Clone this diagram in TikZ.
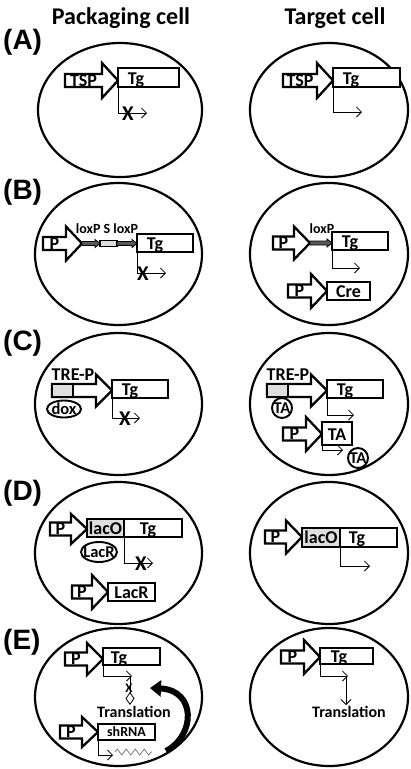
\documentclass[tikz,border=0pt]{standalone}
\usepackage{fontspec}
\setmainfont{Carlito}
\newfontfamily\panelfont{Liberation Sans}
\usetikzlibrary{arrows.meta,shapes.geometric,decorations.pathmorphing}

\newcommand{\fs}[1]{\bfseries\fontsize{#1}{#1}\selectfont}

% promoter block arrow: name, x start, x tip, y centre, head half-height, label
\newcommand{\promoter}[6]{%
  \draw[promo] (#2,#4-6.5) -- (#3-16,#4-6.5) -- (#3-16,#4-#5) -- (#3,#4)
    -- (#3-16,#4+#5) -- (#3-16,#4+6.5) -- (#2,#4+6.5) -- cycle;
  \node[plab] (#1) at ({(#2+#3-16)/2},#4) {#6};
  \coordinate (#1 tip) at (#3,#4);}

% gene box: [style], name, x1, y1, x2, y2
\newcommand{\gene}[6][gene]{%
  \node[#1, minimum width={(#5-#3)*1pt}, minimum height={(#6-#4)*1pt}]
    (#2) at ({(#3+#5)/2},{(#4+#6)/2}) {};}

% loxP site: name, x start, x tip, y centre
\newcommand{\loxp}[4]{%
  \draw[loxsite] (#2,#4-2) -- (#3-5,#4-2) -- (#3-5,#4-4) -- (#3,#4)
    -- (#3-5,#4+4) -- (#3-5,#4+2) -- (#2,#4+2) -- cycle;
  \coordinate (#1) at (#3,#4);}

\begin{document}
\begin{tikzpicture}[x=1pt,y=-1pt,
  % text centred on its capital height (argument: font size in pt)
  capcentre/.style={font=\fs{#1}, inner sep=0pt, text height={0.644*#1*1pt}, text depth=0pt},
  head/.style={font=\fs{24}, inner sep=0pt},
  panel/.style={font=\panelfont\fs{28}, inner sep=0pt, anchor=west},
  cell/.style={draw, line width=2.2pt, ellipse, inner sep=0pt},
  promo/.style={draw, fill=white, line width=2.3pt, line join=miter, miter limit=10},
  plab/.style={capcentre=18},
  gene/.style={draw, fill=white, line width=2.3pt, rectangle, inner sep=0pt, outer sep=0pt},
  grayb/.style={gene, fill=black!13},
  sbox/.style={gene, fill=black!13, line width=1.2pt},
  loxsite/.style={draw, fill=black!65, line width=0.8pt, line join=miter},
  glab/.style={capcentre=18, yshift=-1pt},
  slab/.style={capcentre=14},
  trelab/.style={capcentre=18},
  oval/.style={draw, fill=white, line width=1.9pt, ellipse, inner sep=0pt},
  circ/.style={draw, fill=white, line width=1.9pt, circle, inner sep=0pt, minimum size=20pt},
  olab/.style={capcentre=16.5},
  xmark/.style={capcentre=21},
  xsmall/.style={capcentre=13},
  trans/.style={capcentre=16},
  tx/.style={line width=0.8pt, -{Straight Barb[length=5pt,width=10pt]}},
  txd/.style={line width=0.8pt, -{Diamond[open,length=13pt,width=9pt]}},
  wave/.style={black!55, line width=0.7pt, decorate,
    decoration={zigzag, segment length=9pt, amplitude=3pt}},
  kdarrow/.style={line width=6pt, -{Triangle[length=11pt,width=16pt]}}]
\useasboundingbox (0,0) rectangle (410,769);

% column headings and panel letters
\node[head] (hPack) at (121,18) {Packaging cell};
\node[head] (hTarg) at (335,18) {Target cell};
\node[panel] (lA) at (3,42) {(A)};
\node[panel] (lB) at (3,192) {(B)};
\node[panel] (lC) at (3,343) {(C)};
\node[panel] (lD) at (3,493) {(D)};
\node[panel] (lE) at (3,642) {(E)};

% cells
\node[cell, minimum width=164pt, minimum height=134pt] (cA1) at (120,110) {};
\node[cell, minimum width=158pt, minimum height=134pt] (cA2) at (329,110) {};
\node[cell, minimum width=167pt, minimum height=142pt] (cB1) at (118.5,254) {};
\node[cell, minimum width=158pt, minimum height=142pt] (cB2) at (329,254) {};
\node[cell, minimum width=167pt, minimum height=142pt] (cC1) at (118.5,404) {};
\node[cell, minimum width=158pt, minimum height=142pt] (cC2) at (329,404) {};
\node[cell, minimum width=167pt, minimum height=142pt] (cD1) at (118.5,553) {};
\node[cell, minimum width=158pt, minimum height=142pt] (cD2) at (329,553) {};
\node[cell, minimum width=167pt, minimum height=138pt] (cE1) at (118.5,697) {};
\node[cell, minimum width=158pt, minimum height=138pt] (cE2) at (329,697) {};

% (A) tissue-specific promoter
\promoter{pA1}{65}{118}{80.5}{17.5}{TSP}
\gene{tgA1}{118}{68}{179}{87}
\node[glab] (tgA1t) at (136,77.5) {Tg};
\coordinate (eA1) at (147,113);
\draw[tx] (tgA1.south west) |- (eA1);
\node[xmark] (xA1) at (128,114) {X};

\promoter{pA2}{283}{333}{80.5}{17.5}{TSP}
\gene{tgA2}{333}{68}{400}{87}
\node[glab] (tgA2t) at (351,77.5) {Tg};
\coordinate (eA2) at (362,112);
\draw[tx] (tgA2.south west) |- (eA2);

% (B) Cre/loxP
\promoter{pB1}{43}{82}{243.5}{17}{P}
\loxp{lB1}{82}{100}{243.5}
\gene[sbox]{sB1}{100}{240.5}{117}{246.5}
\loxp{lB2}{117}{137}{243.5}
\node[slab] (loxB1) at (107,229) {loxP S loxP};
\gene{tgB1}{137}{234}{193}{252}
\node[glab] (tgB1t) at (155,243) {Tg};
\coordinate (eB1) at (166,273);
\draw[tx] (tgB1.south west) |- (eB1);
\node[xmark] (xB1) at (143,274) {X};

\promoter{pB2}{273}{310}{243}{16.5}{P}
\loxp{lB3}{310}{332}{243}
\node[slab] (loxB2) at (322,229) {loxP};
\gene{tgB2}{332}{232}{388}{250}
\node[glab] (tgB2t) at (350,241) {Tg};
\coordinate (eB2) at (360,268);
\draw[tx] (tgB2.south west) |- (eB2);
\promoter{pB3}{288}{327}{291}{17}{P}
\gene{creB2}{327}{282}{370}{300}
\node[glab] (creB2t) at (348.5,291) {Cre};

% (C) Tet system
\promoter{pC1}{52}{112}{390.5}{16}{}
\gene[grayb]{treC1}{52}{384}{73}{397}
\node[trelab] (treC1t) at (73,375) {TRE-P};
\gene{tgC1}{112}{380}{168}{398}
\node[glab] (tgC1t) at (130,389) {Tg};
\node[oval, minimum width=34pt, minimum height=17pt] (doxC1) at (64,409) {};
\node[olab] (doxC1t) at (doxC1) {dox};
\coordinate (eC1) at (140,418);
\draw[tx] (tgC1.south west) |- (eC1);
\node[xmark] (xC1) at (125,419) {X};

\promoter{pC2}{267}{327}{390.5}{16}{}
\gene[grayb]{treC2}{267}{384}{288}{397}
\node[trelab] (treC2t) at (288,375) {TRE-P};
\gene{tgC2}{327}{380}{383}{398}
\node[glab] (tgC2t) at (345,389) {Tg};
\node[circ] (taC2a) at (282,408) {};
\node[olab] (taC2at) at (taC2a) {TA};
\coordinate (eC2) at (354,415);
\draw[tx] (tgC2.south west) |- (eC2);
\promoter{pC3}{283}{322}{434}{17}{P}
\gene{taC2}{322}{422}{352}{445}
\node[glab] (taC2t) at (337,433.5) {TA};
\coordinate (eC3) at (343,450);
\draw[tx] (taC2.south west) |- (eC3);
\node[circ] (taC2b) at (358,458) {};
\node[olab] (taC2bt) at (taC2b) {TA};

% (D) Lac repressor
\promoter{pD1}{50}{87}{529}{15}{P}
\gene[grayb]{lacD1}{87}{519}{124}{537}
\node[glab] (lacD1t) at (105.5,528) {lacO};
\gene{tgD1}{124}{519}{182}{537}
\node[glab] (tgD1t) at (148,528) {Tg};
\node[oval, minimum width=36pt, minimum height=20pt] (lacrD1) at (99,552) {};
\node[olab] (lacrD1t) at (lacrD1) {LacR};
\coordinate (eD1) at (153,563);
\draw[tx] (tgD1.south west) |- (eD1);
\node[xmark] (xD1) at (141,564) {X};
\promoter{pD2}{72}{108}{592}{17}{P}
\gene{lacrD2}{108}{583}{155}{601}
\node[glab] (lacrD2t) at (131.5,592) {LacR};

\promoter{pD3}{265}{302}{537}{16.5}{P}
\gene[grayb]{lacD3}{302}{528}{340}{547}
\node[glab] (lacD3t) at (321,537) {lacO};
\gene{tgD3}{340}{528}{397}{547}
\node[glab] (tgD3t) at (357,537) {Tg};
\coordinate (eD3) at (370,566);
\draw[tx] (tgD3.south west) |- (eD3);

% (E) shRNA knock-down
\promoter{pE1}{65}{103}{659}{16}{P}
\gene{tgE1}{103}{648}{160}{665}
\node[glab] (tgE1t) at (119,656.5) {Tg};
\coordinate (eE1) at (132,676);
\draw[tx] (tgE1.south west) |- (eE1);
\coordinate (dE1a) at (130,676);
\coordinate (dE1b) at (130,705);
\draw[txd] (dE1a) -- (dE1b);
\node[xsmall] (xE1) at (129,688) {X};
\node[trans] (trE1) at (134,712) {Translation};
\promoter{pE2}{60}{98}{732}{15}{P}
\gene{shE1}{98}{724}{155}{740}
\node[slab] (shE1t) at (126.5,732) {shRNA};
\coordinate (eE2) at (113,755);
\draw[tx] (shE1.south west) |- (eE2);
\coordinate (wE1a) at (115,752);
\coordinate (wE1b) at (152,752);
\draw[wave] (wE1a) -- (wE1b);
\coordinate (cE1a) at (166,751);
\coordinate (cE1b) at (150,688);
\draw[kdarrow] (cE1a) .. controls (196,735) and (196,690) .. (cE1b);

\promoter{pE3}{281}{320}{657}{17}{P}
\gene{tgE3}{320}{648}{373}{664}
\node[glab] (tgE3t) at (339,656) {Tg};
\coordinate (eE3) at (348,676);
\draw[tx] (tgE3.south west) |- (eE3);
\coordinate (dE3a) at (346,676);
\coordinate (dE3b) at (346,705);
\draw[tx] (dE3a) -- (dE3b);
\node[trans] (trE3) at (349,712) {Translation};
\end{tikzpicture}
\end{document}
